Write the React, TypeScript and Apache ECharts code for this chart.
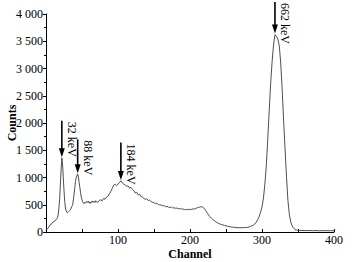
import React, { useEffect, useRef } from "react";
import * as echarts from "echarts";

// Spectrum data: channel and counts
const channels: number[] = [
  0, 2, 4, 6, 8, 10, 12, 14, 16, 17, 18, 19, 20, 21, 22, 23, 24, 25, 26, 27, 28, 29, 30,
  31, 32, 33, 34, 35, 36, 37, 38, 39, 40, 41, 42, 43, 44, 45, 46, 47, 48, 49, 50,
  51, 52, 53, 54, 55, 56, 57, 58, 59, 60, 61, 62, 63, 64, 65, 66, 67, 68, 69, 70,
  72, 74, 76, 78, 80, 82, 84, 86, 88, 90, 92, 94, 96, 98, 100, 102, 104, 106, 108, 110,
  112, 114, 116, 118, 120, 122, 124, 126, 128, 130, 132, 134, 136, 138, 140, 142, 144, 146, 148, 150,
  152, 154, 156, 158, 160, 162, 164, 166, 168, 170, 172, 174, 176, 178, 180, 182, 184, 186, 188, 190,
  192, 194, 196, 198, 200, 202, 204, 206, 208, 210, 212, 214, 216, 218, 220, 222, 224, 226, 228, 230,
  232, 234, 236, 238, 240, 244, 248, 252, 256, 260, 264, 268, 272, 276, 280, 284, 288, 290,
  292, 294, 296, 298, 300, 302, 304, 306, 308, 310, 312, 314, 316, 318, 320, 322, 324, 326, 328, 330,
  332, 334, 336, 338, 340, 342, 344, 346, 348, 350, 355, 360, 365, 370, 375, 380, 385, 390, 395, 400,
];
const counts: number[] = [
  30, 60, 90, 140, 150, 190, 200, 225, 260, 330, 450, 620, 880, 1150, 1360, 1250, 1000, 760, 560, 440, 390, 360, 355,
  365, 380, 395, 410, 440, 470, 500, 590, 700, 820, 930, 1000, 1040, 1065, 1010, 910, 820, 720, 640, 590,
  555, 530, 520, 545, 530, 555, 560, 540, 565, 530, 550, 525, 560, 545, 570, 550, 560, 540, 575, 555,
  545, 580, 590, 575, 615, 600, 640, 655, 700, 745, 800, 860, 875, 850, 880, 905, 940, 900, 880, 860,
  840, 845, 805, 820, 780, 760, 715, 730, 680, 695, 650, 640, 615, 600, 610, 575, 585, 560, 545, 540,
  520, 530, 505, 500, 495, 480, 485, 465, 470, 455, 450, 460, 440, 445, 435, 440, 425, 430, 420, 425,
  410, 415, 405, 420, 410, 415, 425, 420, 430, 445, 450, 460, 465, 455, 425, 390, 350, 310, 280, 250,
  225, 205, 185, 170, 155, 135, 120, 105, 95, 88, 82, 78, 80, 80, 85, 100, 125, 145,
  180, 225, 280, 360, 460, 620, 880, 1220, 1700, 2220, 2720, 3120, 3430, 3620, 3590, 3540, 3420, 3100, 2620, 2050,
  1530, 1020, 580, 320, 180, 110, 70, 45, 35, 30, 28, 25, 27, 24, 26, 22, 25, 23, 24, 22,
];

// Peak annotations
const peakChannels: number[] = [22, 44, 104, 318];
const peakLabels: string[] = ["32 keV", "88 keV", "184 keV", "662 keV"];
const arrowTops: number[] = [2040, 1700, 1640, 4220];
const arrowTips: number[] = [1370, 1080, 955, 3640];

// Axis settings
const xMin = 0;
const xMax = 400;
const xInterval = 100;
const yMin = 0;
const yMax = 4000;
const yInterval = 500;
const xName = "Channel";
const yName = "Counts";

const FONT = "'Liberation Serif', 'Times New Roman', serif";

function fmtThousands(v: number): string {
  const s = String(Math.round(v));
  if (s.length <= 3) return s;
  return s.slice(0, s.length - 3) + " " + s.slice(s.length - 3);
}

export default function App() {
  const ref = useRef<HTMLDivElement>(null);
  useEffect(() => {
    document.body.style.margin = "0";
    if (!ref.current) return;
    const chart = echarts.init(ref.current, undefined, { renderer: "svg" });
    const data = channels.map((c, i) => [c, counts[i]]);
    chart.setOption({
      animation: false,
      backgroundColor: "#ffffff",
      grid: {
        left: 46,
        right: 22,
        top: 14,
        bottom: 30,
        containLabel: false,
        outerBoundsMode: "none",
      },
      xAxis: {
        type: "value",
        min: xMin,
        max: xMax,
        interval: xInterval,
        name: xName,
        nameLocation: "middle",
        nameGap: 16,
        nameMoveOverlap: false,
        nameTextStyle: { fontFamily: FONT, fontWeight: "bold", fontSize: 12, color: "#000", verticalAlign: "top" },
        axisLine: { show: true, onZero: false, lineStyle: { color: "#000", width: 1 } },
        axisTick: { show: true, inside: true, length: 3, lineStyle: { color: "#000" } },
        minorTick: { show: true, splitNumber: 2, length: 3, lineStyle: { color: "#000" } },
        axisLabel: {
          fontFamily: FONT,
          fontSize: 12,
          color: "#000",
          margin: 2,
          formatter: (v: number) => (v === 0 ? "" : String(v)),
        },
        splitLine: { show: false },
      },
      yAxis: {
        type: "value",
        min: yMin,
        max: yMax,
        interval: yInterval,
        name: yName,
        nameLocation: "middle",
        nameGap: 28,
        nameMoveOverlap: false,
        nameTextStyle: { fontFamily: FONT, fontWeight: "bold", fontSize: 12, color: "#000" },
        axisLine: { show: true, lineStyle: { color: "#000", width: 1 } },
        axisTick: { show: true, inside: false, length: 3, lineStyle: { color: "#000" } },
        minorTick: { show: true, splitNumber: 2, length: 2, lineStyle: { color: "#000" } },
        axisLabel: {
          fontFamily: FONT,
          fontSize: 12,
          color: "#000",
          margin: 3,
          formatter: (v: number) => fmtThousands(v),
        },
        splitLine: { show: false },
      },
      series: [
        {
          type: "line",
          data,
          showSymbol: false,
          symbol: "none",
          lineStyle: { color: "#3a3a3a", width: 0.9 },
          z: 2,
        },
      ],
    });

    const elements: any[] = [];
    peakChannels.forEach((ch, i) => {
      const top = chart.convertToPixel({ gridIndex: 0 }, [ch, arrowTops[i]]) as number[];
      const tip = chart.convertToPixel({ gridIndex: 0 }, [ch, arrowTips[i]]) as number[];
      const headLen = 9;
      const headHalf = 3;
      elements.push({
        type: "line",
        shape: { x1: top[0], y1: top[1], x2: tip[0], y2: tip[1] - headLen + 1 },
        style: { stroke: "#000", lineWidth: 1.6 },
        z: 10,
      });
      elements.push({
        type: "polygon",
        shape: {
          points: [
            [tip[0] - headHalf, tip[1] - headLen],
            [tip[0] + headHalf, tip[1] - headLen],
            [tip[0], tip[1]],
          ],
        },
        style: { fill: "#000" },
        z: 10,
      });
      elements.push({
        type: "text",
        x: top[0] + 4,
        y: top[1] + 1,
        rotation: -Math.PI / 2,
        style: {
          text: peakLabels[i],
          font: `12px ${FONT}`,
          fill: "#000",
          textAlign: "left",
          textVerticalAlign: "bottom",
        },
        z: 10,
      });
    });
    chart.setOption({ graphic: { elements } });

    return () => chart.dispose();
  }, []);
  return <div ref={ref} style={{ width: 356, height: 262 }} />;
}
